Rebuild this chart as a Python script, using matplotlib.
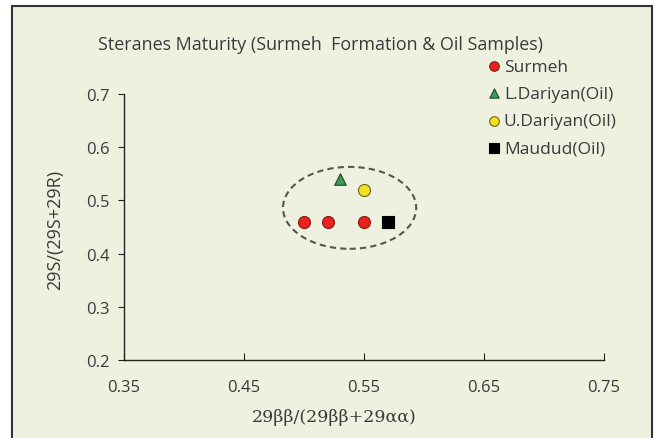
import matplotlib
matplotlib.use("Agg")
import matplotlib.pyplot as plt
from matplotlib.patches import Ellipse, Rectangle

surmeh_x = [0.50, 0.52, 0.55]
surmeh_y = [0.46, 0.46, 0.46]
ldariyan_x = [0.53]
ldariyan_y = [0.54]
udariyan_x = [0.55]
udariyan_y = [0.52]
maudud_x = [0.57]
maudud_y = [0.46]
x_ticks = [0.35, 0.45, 0.55, 0.65, 0.75]
y_ticks = [0.2, 0.3, 0.4, 0.5, 0.6, 0.7]

bg = "#EEF1E0"
txt = "#3A3A3A"
fig = plt.figure(figsize=(6.57, 4.39), dpi=100)
fig.patch.set_facecolor("white")
frame = Rectangle((12/657, -0.01), 640/657, 1 - 7/439 + 0.01,
                  transform=fig.transFigure, facecolor=bg,
                  edgecolor="#333333", linewidth=1.5, zorder=-10)
fig.patches.append(frame)

ax = fig.add_axes([124/657, 1 - 361/439, 480/657, 266/439])
ax.set_zorder(5)
ax.set_facecolor("none")
ax.set_xlim(0.35, 0.75)
ax.set_ylim(0.2, 0.7)
for s in ["top", "right"]:
    ax.spines[s].set_visible(False)
for s in ["left", "bottom"]:
    ax.spines[s].set_color("#222222")
    ax.spines[s].set_linewidth(1.0)

ax.set_xticks(x_ticks)
ax.set_xticklabels(["%.2f" % v for v in x_ticks], family="Open Sans", fontsize=12, color=txt)
ax.set_yticks(y_ticks)
ax.set_yticklabels(["%.1f" % v for v in y_ticks], family="Open Sans", fontsize=12, color=txt)
ax.tick_params(axis="x", direction="in", length=5, color="#222222", pad=14)
ax.tick_params(axis="y", direction="out", length=4, color="#222222", pad=6)

ax.scatter(surmeh_x, surmeh_y, s=75, c="#E8201E", edgecolors="#8B1A10", linewidths=0.8, label="Surmeh", zorder=3)
ax.scatter(ldariyan_x, ldariyan_y, s=70, marker="^", c="#3A9A50", edgecolors="#1E4A28", linewidths=0.8, label="L.Dariyan(Oil)", zorder=3)
ax.scatter(udariyan_x, udariyan_y, s=75, c="#F2E21E", edgecolors="#6B6420", linewidths=0.8, label="U.Dariyan(Oil)", zorder=3)
ax.scatter(maudud_x, maudud_y, s=75, marker="s", c="#000000", edgecolors="#000000", linewidths=0.8, label="Maudud(Oil)", zorder=3)

ax.add_patch(Ellipse((0.538, 0.486), 0.111, 0.154, fill=False, edgecolor="#555555",
                     linestyle=(0, (3, 2)), linewidth=1.5, zorder=2))

leg = ax.legend(loc="upper left", bbox_to_anchor=(470/657, 1 - 44/439), bbox_transform=fig.transFigure,
                frameon=False, handletextpad=0.05, labelspacing=0.64, handlelength=1.0,
                markerscale=0.8, prop={"family": "Open Sans", "size": 12.5})
for t in leg.get_texts():
    t.set_color(txt)

fig.text(321/657, 1 - 45/439, "Steranes Maturity (Surmeh  Formation & Oil Samples)",
         ha="center", va="center", family="Open Sans", fontsize=12.9, color=txt)
fig.text(55/657, 1 - 230/439, "29S/(29S+29R)", rotation=90, ha="center", va="center",
         family="Open Sans", fontsize=13, color=txt)
fig.text(334/657, 1 - 418/439, "29ββ/(29ββ+29αα)", ha="center", va="center",
         family="DejaVu Serif", fontsize=12.5, color=txt)

fig.savefig("out.png", dpi=100, facecolor=fig.get_facecolor())
